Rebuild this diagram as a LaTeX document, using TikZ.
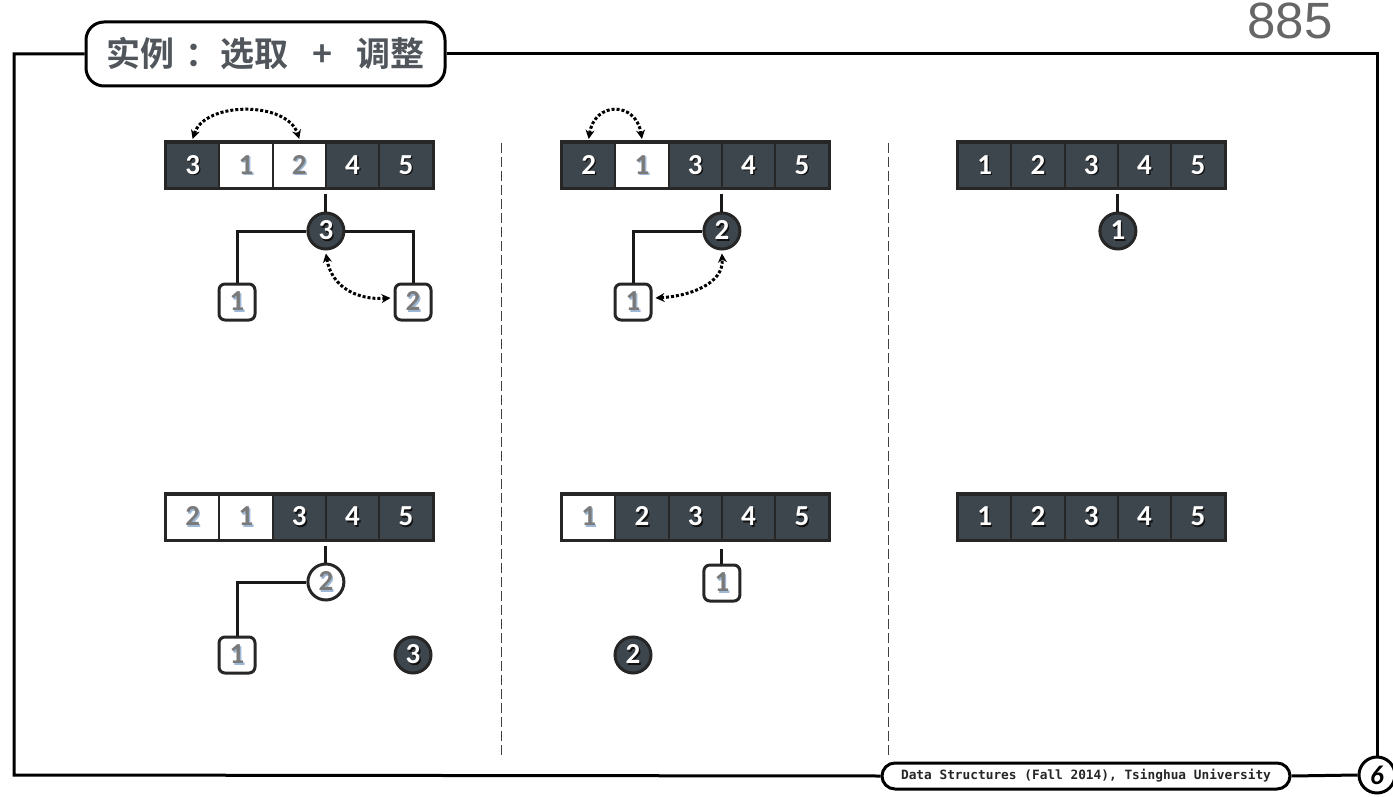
\documentclass[tikz,border=0pt]{standalone}
\usepackage{fontspec}
\setmainfont{Carlito}
\newfontfamily\cjk{Noto Sans CJK SC}[BoldFont={Noto Sans CJK SC Bold}]
\newfontfamily\monof{DejaVu Sans Mono}
\newfontfamily\numf{Liberation Sans}
\usetikzlibrary{arrows.meta,calc}
\definecolor{cellfill}{HTML}{3E464D}
\definecolor{grayn}{HTML}{7A7A7A}
\definecolor{shadowb}{HTML}{9DB8D6}
\definecolor{shadowd}{HTML}{111111}
\definecolor{titlec}{HTML}{50565B}
\newcommand\dnum[1]{\makebox[0pt][l]{\kern1.4pt\raisebox{-1.4pt}{\textcolor{shadowd}{#1}}}\textcolor{white}{#1}}
\newcommand\lnum[1]{\makebox[0pt][l]{\kern1.4pt\raisebox{-1.4pt}{\textcolor{shadowb}{#1}}}\textcolor{grayn}{#1}}
\tikzset{
  numfont/.style={font=\fontsize{29}{29}\selectfont\bfseries},
  cellbase/.style={rectangle, minimum width=53.3pt, minimum height=45pt, inner sep=0pt, draw=black!85, line width=2pt, numfont},
  dcell/.style={cellbase, fill=cellfill},
  lcell/.style={cellbase, fill=white},
  circ/.style={circle, minimum size=36pt, inner sep=0pt, draw=black!85, line width=3pt, numfont},
  dcirc/.style={circ, fill=cellfill},
  lcirc/.style={circ, fill=white},
  leaf/.style={rectangle, rounded corners=6pt, minimum size=36pt, inner sep=0pt, draw=black!85, line width=3pt, fill=white, numfont},
  tline/.style={line width=3pt, draw=black!90},
  frame/.style={line width=3pt, draw=black},
  dline/.style={line width=1pt, draw=black!75, dash pattern=on 10pt off 4pt},
  dotarrow/.style={line width=3pt, dotted, {Stealth[length=9pt,width=9pt]}-{Stealth[length=9pt,width=9pt]}},
  outer/.style={line width=3pt, draw=black!85},
}
\begin{document}
\begin{tikzpicture}[x=1pt,y=-1pt]
\useasboundingbox (0,0) rectangle (1393,797);
% page number on top
\node[anchor=base, inner sep=0pt, text=black!60, font=\numf\fontsize{51}{51}\selectfont] (pnum) at (1290,39) {885};
% title
\node[draw=black, line width=3pt, rounded corners=18pt, fill=white, minimum width=359pt, minimum height=64pt, inner sep=0pt,
  font=\cjk\bfseries\fontsize{34}{34}\selectfont, text=titlec] (TT) at (265.5,54)
  {实例\hspace{11pt}：\hspace{1pt}选取\makebox[68pt]{+}调整\hspace{11pt}};
% footer
\node[draw=black, line width=3pt, rounded corners=13pt, fill=white, minimum width=408pt, minimum height=26pt, inner sep=0pt,
  font=\monof\bfseries\fontsize{12.8}{13}\selectfont, text=black!85] (F) at (1086,776) {Data Structures (Fall 2014), Tsinghua University};
\node[circle, draw=black, line width=3pt, fill=white, minimum size=36pt, inner sep=0pt,
  font=\bfseries\itshape\fontsize{27}{27}\selectfont] (PG) at (1377,775) {6};
% frame
\coordinate (tl) at (14,54);
\coordinate (bl) at (14,775);
\coordinate (tr) at (1377,54);
\draw[frame] (TT.west) -- (tl) -- (bl) -- (F.west);
\draw[frame] (TT.east) -- (tr) -- (PG.north);
\draw[frame] (F.east) -- (PG.west);
% dashed separators
\coordinate (d1t) at (501,143); \coordinate (d1b) at (501,757);
\coordinate (d2t) at (888,143); \coordinate (d2b) at (888,757);
\draw[dline] (d1t) -- (d1b);
\draw[dline] (d2t) -- (d2b);

% ---------- arrays ----------
\foreach \t/\v [count=\i] in {d/3,l/1,l/2,d/4,d/5}
  \node[\t cell] (A\i) at ({166+53.3*(\i-0.5)},165.5) {\csname\t num\endcsname{\v}};
\foreach \t/\v [count=\i] in {d/2,l/1,d/3,d/4,d/5}
  \node[\t cell] (B\i) at ({562+53.3*(\i-0.5)},165.5) {\csname\t num\endcsname{\v}};
\foreach \t/\v [count=\i] in {d/1,d/2,d/3,d/4,d/5}
  \node[\t cell] (C\i) at ({958+53.3*(\i-0.5)},165.5) {\csname\t num\endcsname{\v}};
\foreach \t/\v [count=\i] in {l/2,l/1,d/3,d/4,d/5}
  \node[\t cell] (D\i) at ({166+53.3*(\i-0.5)},517) {\csname\t num\endcsname{\v}};
\foreach \t/\v [count=\i] in {l/1,d/2,d/3,d/4,d/5}
  \node[\t cell] (E\i) at ({562+53.3*(\i-0.5)},517) {\csname\t num\endcsname{\v}};
\foreach \t/\v [count=\i] in {d/1,d/2,d/3,d/4,d/5}
  \node[\t cell] (G\i) at ({958+53.3*(\i-0.5)},517) {\csname\t num\endcsname{\v}};
\foreach \p in {A,B,C,D,E,G}
  \draw[outer] (\p1.north west) rectangle (\p5.south east);

% ---------- panel 1 (top) ----------
\node[dcirc] (A3t) at (325.9,231) {\dnum{3}};
\node[leaf] (A1l) at (237,302) {\lnum{1}};
\node[leaf] (A2l) at (413,302) {\lnum{2}};
\draw[tline] (A3t.north) -- ++(0,-17);
\draw[tline] (A3t.west) -| (A1l.north);
\draw[tline] (A3t.east) -| (A2l.north);
\draw[dotarrow] ($(A1.north)+(0,-3)$) .. controls +(12,-38) and +(-12,-38) .. ($(A3.north)+(0,-3)$);
\draw[dotarrow] ($(A3t.south)+(0,3)$) .. controls +(6,35) and +(-32,2) .. ($(A2l.west)+(-3,-4)$);

% ---------- panel 2 (top) ----------
\node[dcirc] (B2t) at (721.9,231) {\dnum{2}};
\node[leaf] (B1l) at (633,302) {\lnum{1}};
\draw[tline] (B2t.north) -- ++(0,-17);
\draw[tline] (B2t.west) -| (B1l.north);
\draw[dotarrow] ($(B1.north)+(0,-3)$) .. controls +(6,-38) and +(-6,-38) .. ($(B2.north)+(0,-3)$);
\draw[dotarrow] ($(B1l.east)+(3,-4)$) .. controls +(35,-2) and +(2,30) .. ($(B2t.south)+(0,3)$);

% ---------- panel 3 (top) ----------
\node[dcirc] (C1t) at (1117.9,231) {\dnum{1}};
\draw[tline] (C1t.north) -- ++(0,-17);

% ---------- panel 1 (bottom) ----------
\node[lcirc] (D2t) at (325.9,582) {\lnum{2}};
\node[leaf] (D1l) at (237,655) {\lnum{1}};
\node[dcirc] (D3c) at (413,655) {\dnum{3}};
\draw[tline] (D2t.north) -- ++(0,-17);
\draw[tline] (D2t.west) -| (D1l.north);

% ---------- panel 2 (bottom) ----------
\node[leaf] (E1l) at (721.9,583) {\lnum{1}};
\node[dcirc] (E2c) at (633,655) {\dnum{2}};
\draw[tline] (E1l.north) -- ++(0,-15);
\end{tikzpicture}
\end{document}
